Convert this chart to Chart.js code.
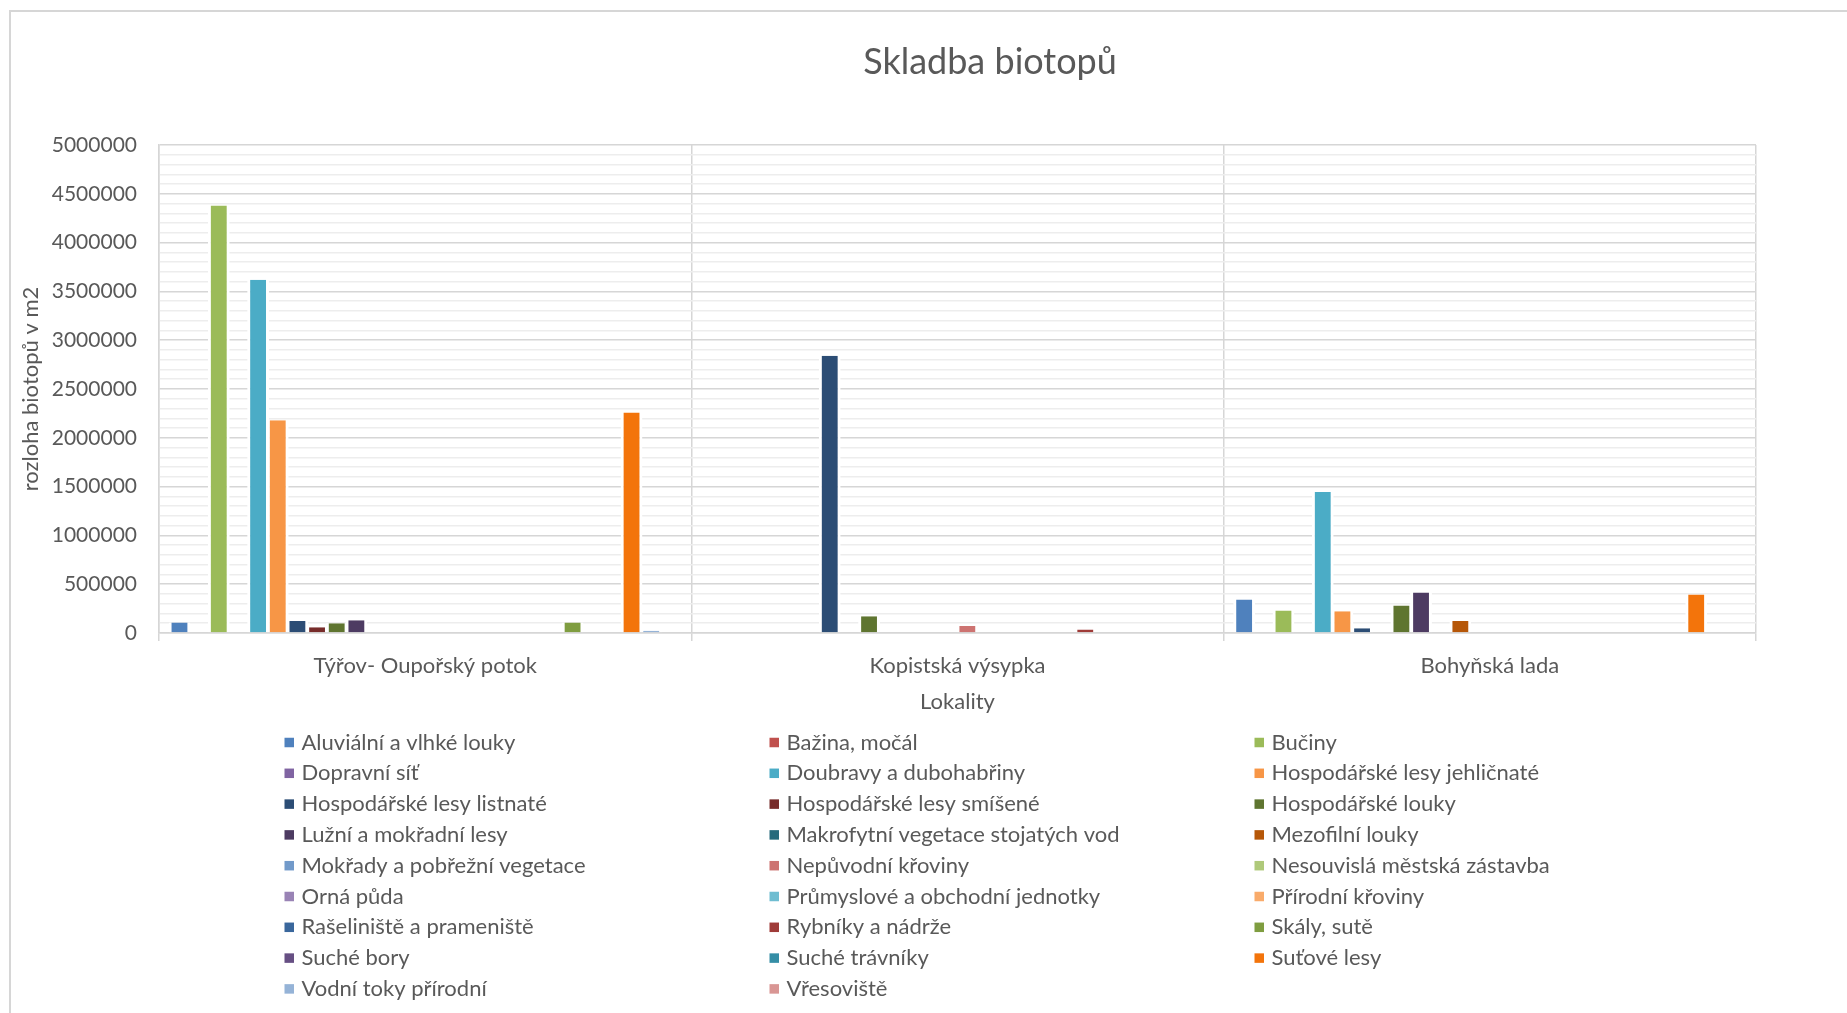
<!DOCTYPE html>
<html lang="cs">
<head>
<meta charset="utf-8">
<title>Skladba biotopů</title>
<script src="https://cdn.jsdelivr.net/npm/chart.js@4/dist/chart.umd.min.js"></script>
<style>
  html, body { margin: 0; padding: 0; background: #ffffff; overflow: hidden; }
  #wrap { position: relative; width: 1847px; height: 1013px; }
  canvas { display: block; }
</style>
</head>
<body>
<div id="wrap"><canvas id="chart" width="1847" height="1013"></canvas></div>
<script>
// Texts
const chartTitle = 'Skladba biotopů';
const yAxisTitle = 'rozloha biotopů v m2';
const xAxisTitle = 'Lokality';

// Localities (categories)
const categories = ['Týřov- Oupořský potok', 'Kopistská výsypka', 'Bohyňská lada'];

// Habitat types (series)
const habitats = [
  'Aluviální a vlhké louky', 'Bažina, močál', 'Bučiny',
  'Dopravní síť', 'Doubravy a dubohabřiny', 'Hospodářské lesy jehličnaté',
  'Hospodářské lesy listnaté', 'Hospodářské lesy smíšené', 'Hospodářské louky',
  'Lužní a mokřadní lesy', 'Makrofytní vegetace stojatých vod', 'Mezofilní louky',
  'Mokřady a pobřežní vegetace', 'Nepůvodní křoviny', 'Nesouvislá městská zástavba',
  'Orná půda', 'Průmyslové a obchodní jednotky', 'Přírodní křoviny',
  'Rašeliniště a prameniště', 'Rybníky a nádrže', 'Skály, sutě',
  'Suché bory', 'Suché trávníky', 'Suťové lesy',
  'Vodní toky přírodní', 'Vřesoviště'
];

// Area of each habitat in m2, one array per locality (same order as habitats)
const areaTyrov = [
  107000, 0, 4380000,
  0, 3620000, 2180000,
  124000, 59000, 100000,
  131000, 0, 0,
  0, 0, 0,
  0, 0, 0,
  0, 0, 107000,
  0, 0, 2260000,
  24000, 0
];
const areaKopisty = [
  0, 0, 0,
  0, 0, 0,
  2840000, 0, 172000,
  0, 0, 0,
  0, 73000, 0,
  0, 0, 0,
  0, 37000, 0,
  0, 0, 0,
  0, 0
];
const areaBohyne = [
  344000, 0, 230000,
  0, 1444000, 223000,
  48000, 0, 281000,
  415000, 0, 124000,
  0, 0, 0,
  0, 0, 0,
  0, 0, 0,
  0, 0, 394000,
  0, 0
];

// Value axis
const yMin = 0;
const yMax = 5000000;
const yMinorStep = 100000;
const yTickLabels = ['0', '500000', '1000000', '1500000', '2000000', '2500000',
                     '3000000', '3500000', '4000000', '4500000', '5000000'];

// Series colours (office palette and its shades)
const seriesColors = [
  '#4F81BD', '#C0504D', '#9BBB59', '#8064A2', '#4BACC6', '#F79646',
  '#2C4D75', '#772C2A', '#5F7530', '#4D3B62', '#276A7C', '#B65708',
  '#729ACA', '#CD7371', '#AFC97A', '#9983B5', '#6FBDD1', '#F9AB6B',
  '#3A679C', '#9F3B38', '#7F9D40', '#664F83', '#358EA6', '#F3740B',
  '#95B3D7', '#D99694'
];

const TEXT = '#595959';
const LINE = '#D6D6D6';
const MINOR = '#EDEDED';
const FONT = 'Lato, "Open Sans", sans-serif';

const isMajor = v => yTickLabels.some(t => Math.abs(Number(t) - v) < 1);

// Outer frame and centred chart title
const framePlugin = {
  id: 'frame',
  beforeDraw(chart) {
    const { ctx } = chart;
    ctx.save();
    ctx.fillStyle = '#ffffff';
    ctx.fillRect(0, 0, chart.width, chart.height);
    ctx.strokeStyle = LINE;
    ctx.lineWidth = 2;
    ctx.strokeRect(10, 11, 1960, 1040);
    ctx.restore();
  },
  afterDraw(chart) {
    const { ctx } = chart;
    ctx.save();
    ctx.font = '36px ' + FONT;
    ctx.fillStyle = TEXT;
    ctx.textAlign = 'center';
    ctx.textBaseline = 'middle';
    ctx.fillText(chartTitle, 10 + 1960 / 2, 62);
    ctx.restore();
  }
};

// Three-column legend under the axis title
const legendGrid = {
  id: 'legendGrid',
  afterDraw(chart) {
    const { ctx, chartArea } = chart;
    const cols = 3;
    const colStart = 284.5;
    const colStep = 485;
    const rowTop = chartArea.bottom + 109.5;
    const rowStep = 30.8;
    const box = 9.5;
    ctx.save();
    ctx.font = '22px ' + FONT;
    ctx.textAlign = 'left';
    ctx.textBaseline = 'middle';
    chart.data.datasets.forEach((ds, i) => {
      const x = colStart + (i % cols) * colStep;
      const y = rowTop + Math.floor(i / cols) * rowStep;
      ctx.fillStyle = ds.backgroundColor;
      ctx.fillRect(x, y - box / 2, box, box);
      ctx.fillStyle = TEXT;
      ctx.fillText(ds.label, x + 17, y);
    });
    ctx.restore();
  }
};

function build() {
  const datasets = habitats.map((name, i) => ({
    label: name,
    data: [areaTyrov[i], areaKopisty[i], areaBohyne[i]],
    backgroundColor: seriesColors[i],
    borderColor: '#ffffff',
    borderWidth: { left: 3, right: 3, top: 0, bottom: 0 },
    borderSkipped: 'start',
    categoryPercentage: 0.96,
    barPercentage: 1.11
  }));

  Chart.defaults.font.family = FONT;
  Chart.defaults.color = TEXT;

  new Chart(document.getElementById('chart'), {
    type: 'bar',
    data: { labels: categories, datasets },
    plugins: [framePlugin, legendGrid],
    options: {
      responsive: false,
      animation: false,
      devicePixelRatio: 1,
      layout: { padding: { top: 145, right: 91, bottom: 297.8, left: 10 } },
      plugins: {
        legend: { display: false },
        title: { display: false },
        tooltip: { enabled: false }
      },
      scales: {
        x: {
          ticks: { color: TEXT, font: { size: 22 }, padding: 11.3 },
          grid: { color: LINE, lineWidth: 1.5, tickLength: 8, offset: true },
          border: { display: true, color: LINE, width: 1.5 },
          title: { display: true, text: xAxisTitle, color: TEXT, font: { size: 22 }, padding: { top: 0, bottom: 0 } },
          afterFit(scale) { scale.height = 82.2; }
        },
        y: {
          min: yMin,
          max: yMax,
          ticks: {
            stepSize: yMinorStep,
            maxTicksLimit: 60,
            autoSkip: false,
            padding: 22,
            color: TEXT,
            font: { size: 21 },
            callback: v => (isMajor(v) ? String(Math.round(v)) : '')
          },
          grid: {
            drawTicks: false,
            color: c => (isMajor(c.tick.value) ? LINE : MINOR),
            lineWidth: 1.5
          },
          border: { display: true, color: LINE, width: 1.5 },
          title: { display: true, text: yAxisTitle, color: TEXT, font: { size: 22 }, padding: { top: 7.8, bottom: 0 } },
          afterFit(scale) { scale.width = 149; }
        }
      }
    }
  });
}

Promise.all([
  document.fonts.load('21px Lato'),
  document.fonts.load('36px Lato')
]).then(build, build);
</script>
</body>
</html>
